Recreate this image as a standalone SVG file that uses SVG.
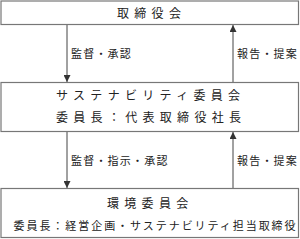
<svg xmlns="http://www.w3.org/2000/svg" width="300" height="239" viewBox="0 0 300 239">
<style>
.box{fill:#fff;stroke:#777;stroke-width:1.2}
.t{font-family:"Noto Sans CJK JP","Noto Sans",sans-serif;fill:#222}
.title{font-size:12px;letter-spacing:5.3px}
.lab{font-size:11px;letter-spacing:1.2px}
.sub{font-size:11px;letter-spacing:1.95px}
.line{stroke:#444;stroke-width:1;fill:none}
</style>
<defs>
<marker id="ah" viewBox="0 0 7 7" refX="7" refY="3.5" markerWidth="7" markerHeight="7" markerUnits="userSpaceOnUse" orient="auto">
<path d="M0,0 L7,3.5 L0,7 Z" fill="#333"/>
</marker>
</defs>
<g id="connectors">
<line class="line" x1="67" y1="24.5" x2="67" y2="82" marker-end="url(#ah)"/>
<line class="line" x1="233" y1="82.5" x2="233" y2="25" marker-end="url(#ah)"/>
<line class="line" x1="67" y1="131.5" x2="67" y2="188" marker-end="url(#ah)"/>
<line class="line" x1="233" y1="188.5" x2="233" y2="132" marker-end="url(#ah)"/>
<text class="t lab" x="71" y="58">監督・承認</text>
<text class="t lab" x="237" y="58">報告・提案</text>
<text class="t lab" x="71" y="165">監督・指示・承認</text>
<text class="t lab" x="237" y="165">報告・提案</text>
</g>
<g id="board">
<rect class="box" x="1" y="1" width="297.5" height="23.5"/>
<text class="t title" x="117" y="18">取締役会</text>
</g>
<g id="sustainability">
<rect class="box" x="1" y="82.5" width="297.5" height="49"/>
<text class="t title" x="56" y="100">サステナビリティ委員会</text>
<text class="t title" x="56" y="122">委員長：代表取締役社長</text>
</g>
<g id="environment">
<rect class="box" x="1" y="188.5" width="297.5" height="49"/>
<text class="t title" x="107" y="208">環境委員会</text>
<text class="t sub" x="13.5" y="230">委員長：経営企画・サステナビリティ担当取締役</text>
</g>
</svg>
